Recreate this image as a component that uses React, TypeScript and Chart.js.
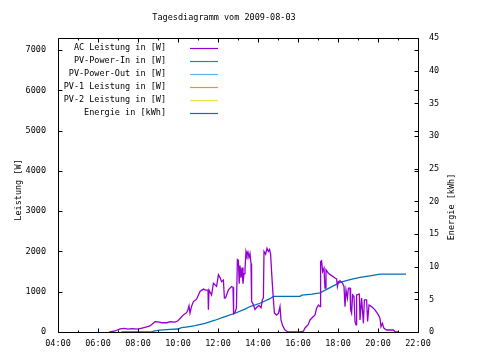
import React, { useEffect, useRef } from 'react';
import { Chart, registerables } from 'chart.js';

Chart.register(...registerables);

const TITLE = 'Tagesdiagramm vom 2009-08-03';
const Y_TITLE = 'Leistung [W]';
const Y2_TITLE = 'Energie [kWh]';

const SERIES_LABELS = [
  'AC Leistung in [W]',
  'PV-Power-In in [W]',
  'PV-Power-Out in [W]',
  'PV-1 Leistung in [W]',
  'PV-2 Leistung in [W]',
  'Energie in [kWh]',
];
const SERIES_COLORS = ['#9400d3', '#009e73', '#56b4e9', '#e69f00', '#f0e442', '#0072b2'];

// Left axis tick values (W)
const Y_TICKS = [0, 1000, 2000, 3000, 4000, 5000, 6000, 7000];

// AC power (hours of day, watts)
const acHours = [
  6.55, 6.6, 6.85, 7.1, 7.3, 7.5, 7.7, 8.0, 8.35, 8.6, 8.85, 9.0, 9.2, 9.45, 9.6, 9.85, 10.0, 10.15, 10.27,
  10.43, 10.5, 10.55, 10.6, 10.68, 10.77, 10.93, 11.1, 11.27, 11.38, 11.5, 11.52, 11.55, 11.68, 11.77, 11.93,
  12.02, 12.1, 12.18, 12.27, 12.32, 12.38, 12.52, 12.68, 12.75, 12.78, 12.85, 12.92, 12.97, 13.02, 13.06, 13.1,
  13.15, 13.2, 13.25, 13.3, 13.35, 13.4, 13.45, 13.5, 13.55, 13.6, 13.65, 13.68, 13.75, 13.85, 13.95, 14.05,
  14.15, 14.22, 14.27, 14.3, 14.38, 14.45, 14.52, 14.58, 14.63, 14.68, 14.73, 14.77, 14.82, 14.93, 15.02, 15.1,
  15.15, 15.23, 15.35, 15.5, 16.1, 16.27, 16.35, 16.5, 16.6, 16.68, 16.85, 16.93, 17.02, 17.1, 17.13, 17.18,
  17.23, 17.3, 17.35, 17.4, 17.52, 17.68, 17.85, 17.93, 17.97, 18.02, 18.1, 18.23, 18.3, 18.35, 18.4, 18.47,
  18.52, 18.6, 18.63, 18.68, 18.73, 18.8, 18.85, 18.9, 18.93, 19.07, 19.1, 19.18, 19.27, 19.32, 19.43, 19.48,
  19.55, 19.68, 19.85, 20.02, 20.1, 20.15, 20.22, 20.3, 20.43, 20.77, 20.85, 21.0,
];
const acWatts = [
  0, 0, 25, 75, 90, 70, 85, 70, 115, 150, 255, 250, 230, 230, 255, 245, 280, 360, 425,
  480, 560, 650, 470, 640, 755, 815, 1005, 1065, 1040, 1040, 550, 1040, 920, 1210, 1130,
  1420, 1350, 1250, 1290, 840, 850, 1045, 1130, 1110, 450, 480, 600, 1800, 1780, 1200, 1650,
  1350, 1600, 1200, 1450, 1550, 2000, 1900, 1980, 1850, 1950, 1700, 760, 700, 560, 620, 660,
  600, 800, 850, 2000, 1930, 2080, 2000, 2050, 1930, 1500, 1090, 800, 470, 420, 460, 630,
  300, 160, 50, 0, 0, 20, 100, 175, 300, 340, 425, 590, 670, 630, 1750, 1770,
  1500, 1585, 1090, 1545, 1460, 1400, 1340, 1320, 1130, 1250, 1270, 1210, 1130, 630, 1045, 840,
  1090, 1090, 550, 465, 920, 880, 255, 175, 920, 940, 300, 840, 215, 800, 800, 260,
  670, 630, 550, 425, 340, 130, 215, 90, 50, 50, 10, 0,
];

// Energy (hours of day, kWh)
const energyHours = [
  7.18, 8.7, 8.77, 9.1, 9.6, 10.0, 10.18, 10.5, 10.85, 11.35, 11.85, 12.35, 12.85, 13.35, 13.6, 14.1, 14.6,
  14.77, 16.1, 16.2, 16.7, 17.1, 17.6, 18.1, 18.6, 19.1, 19.6, 20.1, 21.4,
];
const energyKWh = [
  0, 0, 0.15, 0.3, 0.4, 0.46, 0.66, 0.8, 0.97, 1.33, 1.8, 2.35, 2.87, 3.5, 3.9, 4.4, 5.1,
  5.45, 5.45, 5.65, 5.8, 6.0, 6.8, 7.6, 8.0, 8.35, 8.6, 8.85, 8.85,
];

const X_MIN = 4;
const X_MAX = 22;
const Y_MAX = 7300;
const Y2_MAX = 45;

const FONT = '"DejaVu Sans Mono", monospace';

const fmtTime = (h: number) => (h < 10 ? '0' : '') + h + ':00';

const decorPlugin = {
  id: 'gnuplotDecor',
  afterDraw(chart: any) {
    const { ctx, chartArea } = chart;
    const { left, top, right, bottom } = chartArea;
    const xs = chart.scales.x;
    const ys = chart.scales.y;
    const y2s = chart.scales.y2;
    const L = Math.round(left) + 0.5;
    const R = Math.round(right) + 0.5;
    const T = Math.round(top) + 0.5;
    const B = Math.round(bottom) + 0.5;
    ctx.save();
    ctx.strokeStyle = '#000';
    ctx.lineWidth = 1;
    ctx.beginPath();
    ctx.moveTo(L, T);
    ctx.lineTo(R, T);
    ctx.lineTo(R, B);
    ctx.lineTo(L, B);
    ctx.closePath();
    for (let h = X_MIN; h <= X_MAX; h += 1) {
      const px = Math.round(xs.getPixelForValue(h)) + 0.5;
      const len = h % 2 === 0 ? 4 : 2;
      ctx.moveTo(px, B);
      ctx.lineTo(px, B - len);
      ctx.moveTo(px, T);
      ctx.lineTo(px, T + len);
    }
    Y_TICKS.forEach((v) => {
      const py = Math.round(ys.getPixelForValue(v)) + 0.5;
      ctx.moveTo(L, py);
      ctx.lineTo(L + 4, py);
      ctx.moveTo(R, py);
      ctx.lineTo(R - 4, py);
    });
    for (let v = 0; v <= Y2_MAX; v += 5) {
      const py = Math.round(y2s.getPixelForValue(v)) + 0.5;
      ctx.moveTo(R, py);
      ctx.lineTo(R - 4, py);
    }
    ctx.stroke();

    ctx.fillStyle = '#000';
    ctx.font = '8.5px ' + FONT;
    ctx.textBaseline = 'middle';
    ctx.textAlign = 'center';
    ctx.fillText(TITLE, 224, 18);

    ctx.save();
    ctx.translate(19, 190);
    ctx.rotate(-Math.PI / 2);
    ctx.fillText(Y_TITLE, 0, 0);
    ctx.restore();

    ctx.save();
    ctx.translate(452, 207);
    ctx.rotate(-Math.PI / 2);
    ctx.fillText(Y2_TITLE, 0, 0);
    ctx.restore();

    chart.data.datasets.forEach((ds: any, i: number) => {
      const yy = 47.5 + i * 13;
      ctx.textAlign = 'right';
      ctx.fillStyle = '#000';
      ctx.fillText(ds.label, 166, yy);
      ctx.strokeStyle = ds.borderColor;
      ctx.lineWidth = 1.2;
      ctx.beginPath();
      ctx.moveTo(190, Math.round(yy) + 0.5);
      ctx.lineTo(218, Math.round(yy) + 0.5);
      ctx.stroke();
    });
    ctx.restore();
  },
};

export default function App() {
  const canvasRef = useRef<HTMLCanvasElement | null>(null);

  useEffect(() => {
    const canvas = canvasRef.current;
    if (!canvas) return;
    const acData = acHours.map((h, i) => ({ x: h, y: acWatts[i] }));
    const enData = energyHours.map((h, i) => ({ x: h, y: energyKWh[i] }));
    const datasets = SERIES_LABELS.map((label, i) => {
      let data: any[] = [];
      if (i === 0) data = acData;
      if (i === 5) data = enData;
      return {
        label,
        data,
        borderColor: SERIES_COLORS[i],
        backgroundColor: SERIES_COLORS[i],
        borderWidth: 1.3,
        pointRadius: 0,
        fill: false,
        tension: 0,
        yAxisID: i === 5 ? 'y2' : 'y',
      };
    });

    const tickFont = { family: FONT, size: 8.5 };
    const chart = new Chart(canvas, {
      type: 'line',
      data: { datasets },
      options: {
        responsive: false,
        animation: false,
        devicePixelRatio: 1,
        layout: { padding: { left: 0, right: 0, top: 38, bottom: 0 } },
        plugins: {
          legend: { display: false },
          tooltip: { enabled: false },
          title: { display: false },
        },
        scales: {
          x: {
            type: 'linear',
            min: X_MIN,
            max: X_MAX,
            grid: { display: false, drawTicks: false },
            border: { display: false },
            ticks: {
              stepSize: 2,
              autoSkip: false,
              maxRotation: 0,
              padding: 7,
              color: '#000',
              font: tickFont,
              callback: (v: any) => fmtTime(Number(v)),
            },
            afterFit: (s: any) => {
              s.height = 28;
            },
          },
          y: {
            type: 'linear',
            position: 'left',
            min: 0,
            max: Y_MAX,
            grid: { display: false, drawTicks: false },
            border: { display: false },
            ticks: {
              autoSkip: false,
              padding: 12,
              color: '#000',
              font: tickFont,
              callback: (v: any) => String(Math.round(Number(v))),
            },
            afterBuildTicks: (s: any) => {
              s.ticks = Y_TICKS.map((value) => ({ value }));
            },
            afterFit: (s: any) => {
              s.width = 58;
            },
          },
          y2: {
            type: 'linear',
            position: 'right',
            min: 0,
            max: Y2_MAX,
            grid: { display: false, drawTicks: false },
            border: { display: false },
            ticks: { stepSize: 5, autoSkip: false, padding: 11, color: '#000', font: tickFont },
            afterFit: (s: any) => {
              s.width = 62;
            },
          },
        },
      },
      plugins: [decorPlugin],
    });
    return () => chart.destroy();
  }, []);

  return (
    <div style={{ position: 'absolute', left: 0, top: 0, width: 480, height: 360, background: '#fff' }}>
      <canvas ref={canvasRef} width={480} height={360} style={{ display: 'block' }} />
    </div>
  );
}
